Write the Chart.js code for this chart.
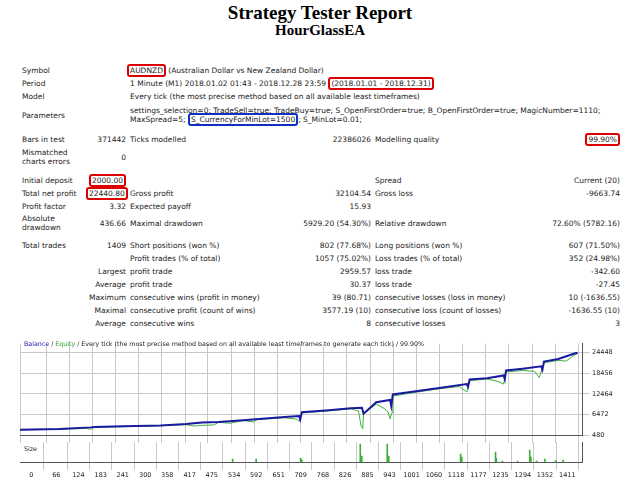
<!DOCTYPE html>
<html>
<head>
<meta charset="utf-8">
<script src="https://cdn.jsdelivr.net/npm/chart.js@4"></script>
<style>
body { margin:0; width:640px; height:480px; background:#fff; font-family:"DejaVu Sans", sans-serif; position:relative; overflow:hidden; }
h1 { position:absolute; top:2px; left:0; width:640px; margin:0; text-align:center; font:bold 19px "Liberation Serif", serif; }
h2 { position:absolute; top:22px; left:0; width:640px; margin:0; text-align:center; font:bold 15px "Liberation Serif", serif; }
table { position:absolute; left:20px; top:64px; width:602px; border-collapse:collapse; table-layout:fixed; font-size:7.5px; color:#222; }
td { padding:0 2px; height:13px; vertical-align:middle; white-space:nowrap; }
td.r { text-align:right; }
td.w { white-space:normal; line-height:9px; }
.red { border:2px solid #d00; border-radius:3px; padding:0 1px; }
.blue { border:2px solid #1030c0; border-radius:3px; padding:0 1px; }
#main { position:absolute; left:20px; top:338px; width:602px; height:105px; }
#size { position:absolute; left:20px; top:442px; width:602px; height:38px; }
#leg { position:absolute; left:24px; top:340px; font-size:6.3px; color:#222; }
#sz { position:absolute; left:24px; top:445px; font-size:6.3px; color:#222; }
</style>
</head>
<body>
<h1>Strategy Tester Report</h1>
<h2>HourGlassEA</h2>
<table>
<colgroup><col style="width:64px"><col style="width:44px"><col style="width:170px"><col style="width:75px"><col style="width:150px"><col style="width:99px"></colgroup>
<tr><td>Symbol</td><td></td><td colspan="4" style="position:relative;left:-3px"><span class="red">AUDNZD</span> (Australian Dollar vs New Zealand Dollar)</td></tr>
<tr><td>Period</td><td></td><td colspan="4">1 Minute (M1) 2018.01.02 01:43 - 2018.12.28 23:59 <span class="red">(2018.01.01 - 2018.12.31)</span></td></tr>
<tr><td>Model</td><td></td><td colspan="4">Every tick (the most precise method based on all available least timeframes)</td></tr>
<tr><td>Parameters</td><td></td><td colspan="4" class="w" style="height:24px">settings_selection=0; TradeSell=true; TradeBuy=true; S_OpenFirstOrder=true; B_OpenFirstOrder=true; MagicNumber=1110;<br>MaxSpread=5; <span class="blue">S_CurrencyForMinLot=1500</span>; S_MinLot=0.01;</td></tr>
<tr><td style="height:6px"></td></tr>
<tr><td>Bars in test</td><td class="r">371442</td><td>Ticks modelled</td><td class="r">22386026</td><td>Modelling quality</td><td class="r"><span class="red">99.90%</span></td></tr>
<tr><td class="w" style="height:22px">Mismatched charts errors</td><td class="r">0</td><td></td><td></td><td></td><td></td></tr>
<tr><td style="height:6px"></td></tr>
<tr><td>Initial deposit</td><td class="r"><span class="red">2000.00</span></td><td></td><td></td><td>Spread</td><td class="r">Current (20)</td></tr>
<tr><td>Total net profit</td><td class="r"><span class="red">22440.80</span></td><td>Gross profit</td><td class="r">32104.54</td><td>Gross loss</td><td class="r">-9663.74</td></tr>
<tr><td>Profit factor</td><td class="r">3.32</td><td>Expected payoff</td><td class="r">15.93</td><td></td><td></td></tr>
<tr><td class="w" style="height:20px">Absolute<br>drawdown</td><td class="r">436.66</td><td>Maximal drawdown</td><td class="r">5929.20 (54.30%)</td><td>Relative drawdown</td><td class="r">72.60% (5782.16)</td></tr>
<tr><td style="height:6px"></td></tr>
<tr><td>Total trades</td><td class="r">1409</td><td>Short positions (won %)</td><td class="r">802 (77.68%)</td><td>Long positions (won %)</td><td class="r">607 (71.50%)</td></tr>
<tr><td></td><td></td><td>Profit trades (% of total)</td><td class="r">1057 (75.02%)</td><td>Loss trades (% of total)</td><td class="r">352 (24.98%)</td></tr>
<tr><td colspan="2" class="r">Largest</td><td>profit trade</td><td class="r">2959.57</td><td>loss trade</td><td class="r">-342.60</td></tr>
<tr><td colspan="2" class="r">Average</td><td>profit trade</td><td class="r">30.37</td><td>loss trade</td><td class="r">-27.45</td></tr>
<tr><td colspan="2" class="r">Maximum</td><td>consecutive wins (profit in money)</td><td class="r">39 (80.71)</td><td>consecutive losses (loss in money)</td><td class="r">10 (-1636.55)</td></tr>
<tr><td colspan="2" class="r">Maximal</td><td>consecutive profit (count of wins)</td><td class="r">3577.19 (10)</td><td>consecutive loss (count of losses)</td><td class="r">-1636.55 (10)</td></tr>
<tr><td colspan="2" class="r">Average</td><td>consecutive wins</td><td class="r">8</td><td>consecutive losses</td><td class="r">3</td></tr>
</table>

<div id="main"><canvas id="cMain"></canvas></div>
<div id="size"><canvas id="cSize"></canvas></div>
<div id="leg"><span style="color:#2020b0">Balance</span> / <span style="color:#30a030">Equity</span> / Every tick (the most precise method based on all available least timeframes to generate each tick) / 99.90%</div>
<div id="sz">Size</div>

<script>
// balance curve (trade number, money)
const balIdx = [0, 100, 178, 188, 260, 355, 420, 460, 502, 564, 620, 669, 705, 708, 712, 780, 836, 864, 868, 900, 935, 938, 942, 982, 1050, 1129, 1132, 1136, 1180, 1222, 1225, 1228, 1270, 1317, 1320, 1324, 1360, 1401, 1409];
const balance = [2000, 2200, 2700, 2800, 3000, 3250, 3700, 4100, 4300, 4800, 5300, 5700, 6000, 5000, 7100, 7700, 8270, 8400, 6700, 10000, 10700, 8900, 12300, 12930, 14000, 15300, 14500, 16660, 17000, 17800, 16660, 19250, 19800, 20500, 19500, 21850, 22600, 24200, 24440];
// equity curve
const eqIdx = [0, 100, 170, 178, 188, 260, 355, 420, 440, 460, 490, 502, 530, 564, 590, 600, 669, 700, 705, 712, 780, 836, 855, 862, 866, 868, 900, 920, 930, 935, 940, 942, 982, 1050, 1110, 1125, 1129, 1136, 1180, 1210, 1222, 1228, 1270, 1300, 1312, 1324, 1360, 1380, 1401, 1409];
const equity = [2000, 2150, 2400, 2100, 2750, 2900, 3200, 3500, 3100, 3300, 3400, 4200, 3900, 4700, 4300, 5000, 5500, 5100, 4500, 6900, 7500, 8100, 7500, 3000, 2300, 6600, 9500, 8200, 7200, 5200, 7000, 11800, 12600, 13800, 14600, 13300, 13000, 16300, 16800, 16000, 15300, 18800, 19300, 19000, 17200, 21500, 22200, 22000, 23800, 24200];
// lot size spikes
const sizeIdx = [530, 592, 709, 712, 866, 870, 937, 941, 1130, 1133, 1222, 1224, 1240, 1280, 1312, 1315, 1330, 1352, 1380, 1400];
const sizeVal = [1.5, 1.5, 2, 1.2, 9, 3, 9, 3, 4, 2.5, 5, 2, 0.6, 0.6, 6, 2.5, 0.6, 1.5, 0.8, 1];
const xTicks = [0, 66, 124, 183, 241, 300, 358, 417, 475, 534, 592, 651, 709, 768, 826, 885, 943, 1001, 1060, 1118, 1177, 1235, 1294, 1352, 1411];
const yTicks = [480, 6472, 12464, 18456, 24448];

const grid = { color: '#c8c8c8', borderDash: [1, 2] };
const font = { family: 'DejaVu Sans', size: 6.5 };
const fixW = s => { s.width = 40; };
const plain = v => String(v);

new Chart(document.getElementById('cMain'), {
    type: 'line',
    data: { datasets: [
        { data: balIdx.map((x, i) => ({ x, y: balance[i] })), borderColor: '#1a1aa0', borderWidth: 2, pointRadius: 0, order: 0 },
        { data: eqIdx.map((x, i) => ({ x, y: equity[i] })), borderColor: '#3cb03c', borderWidth: 1, pointRadius: 0, order: 1 }
    ] },
    options: {
        responsive: true, maintainAspectRatio: false, animation: false,
        layout: { padding: 0 },
        plugins: { legend: { display: false }, tooltip: { enabled: false } },
        scales: {
            x: { type: 'linear', min: 0, max: 1420, grid, border: { color: '#555' },
                 afterBuildTicks: s => { s.ticks = xTicks.map(v => ({ value: v })); },
                 ticks: { display: false } },
            y: { position: 'right', min: 480, max: 27000, grid, border: { color: '#555' },
                 afterBuildTicks: s => { s.ticks = yTicks.map(v => ({ value: v })); },
                 afterFit: fixW, ticks: { font, color: '#222', padding: 2, callback: plain } }
        }
    }
});

new Chart(document.getElementById('cSize'), {
    type: 'bar',
    data: { datasets: [{ data: sizeIdx.map((x, i) => ({ x, y: sizeVal[i] })), backgroundColor: '#3cb03c', barThickness: 1 }] },
    options: {
        responsive: true, maintainAspectRatio: false, animation: false,
        layout: { padding: 0 },
        plugins: { legend: { display: false }, tooltip: { enabled: false } },
        scales: {
            x: { type: 'linear', min: 0, max: 1420, grid, border: { color: '#555' },
                 afterBuildTicks: s => { s.ticks = xTicks.map(v => ({ value: v })); },
                 ticks: { font, color: '#222', autoSkip: false, maxRotation: 0, padding: 1, callback: plain } },
            y: { position: 'right', min: 0, max: 10, grid: { display: false }, border: { color: '#555' },
                 ticks: { display: false }, afterFit: fixW }
        }
    }
});
</script>
</body>
</html>
